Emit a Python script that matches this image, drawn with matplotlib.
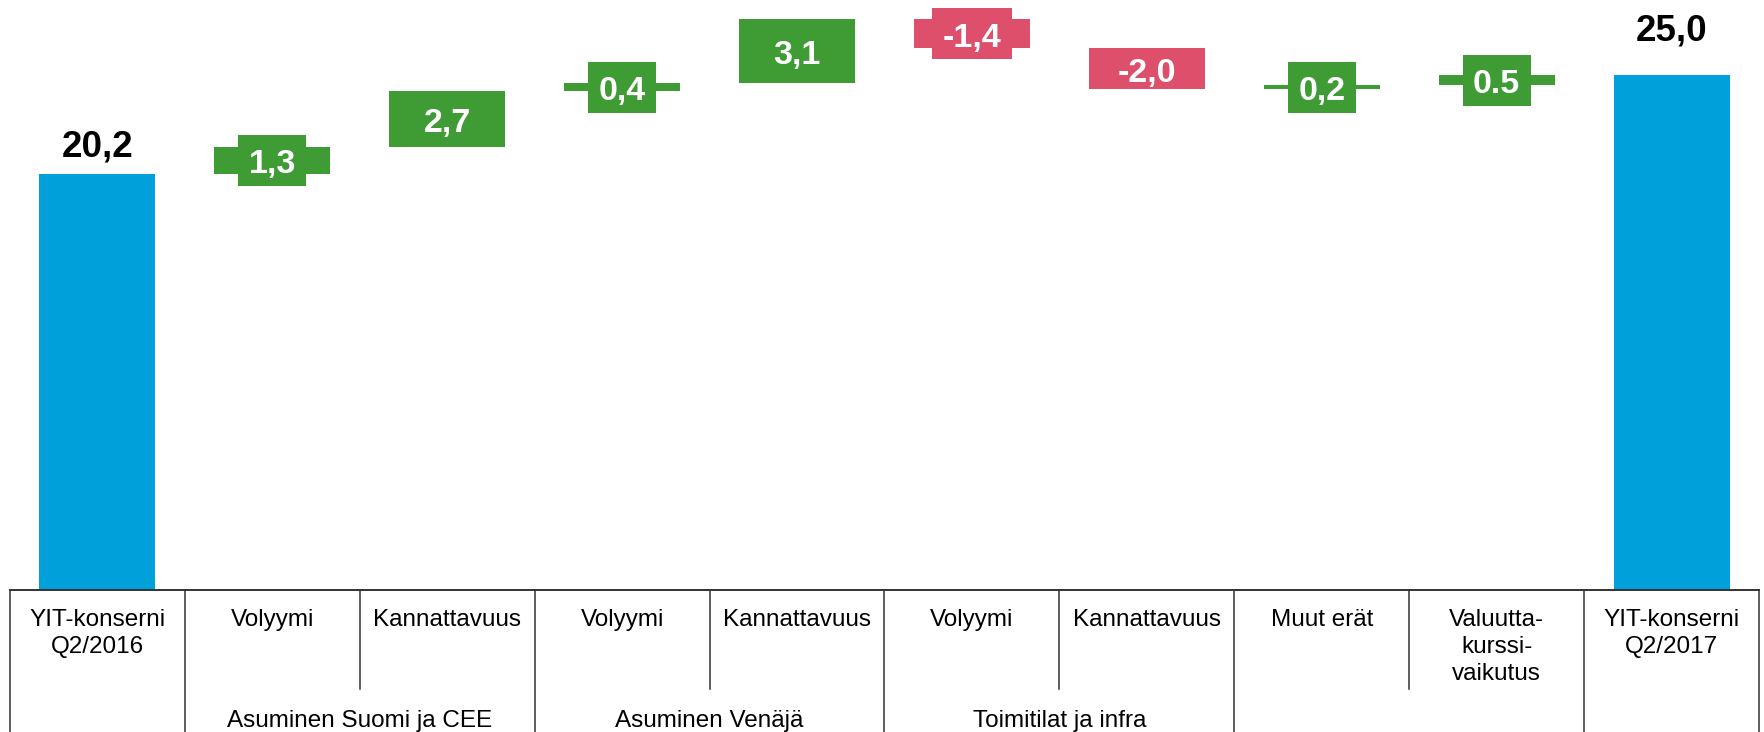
import matplotlib
matplotlib.use("Agg")
import matplotlib.pyplot as plt
from matplotlib.patches import Rectangle
import matplotlib.transforms as mtransforms

plt.rcParams['font.family'] = ['Liberation Sans', 'DejaVu Sans']

# ---- data ----
categories = ["YIT-konserni\nQ2/2016", "Volyymi", "Kannattavuus", "Volyymi", "Kannattavuus",
              "Volyymi", "Kannattavuus", "Muut erät", "Valuutta-\nkurssi-\nvaikutus",
              "YIT-konserni\nQ2/2017"]
values = [20.2, 1.3, 2.7, 0.4, 3.1, -1.4, -2.0, 0.2, 0.5, 25.0]
value_labels = ["20,2", "1,3", "2,7", "0,4", "3,1", "-1,4", "-2,0", "0,2", "0.5", "25,0"]
is_total = [True, False, False, False, False, False, False, False, False, True]
group_names = ["Asuminen Suomi ja CEE", "Asuminen Venäjä", "Toimitilat ja infra"]
group_members = [(1, 2), (3, 4), (5, 6)]

# ---- style ----
BLUE = "#00A0DA"
GREEN = "#3F9C35"
RED = "#DD4F6A"
W, H, DPI = 1765, 732, 100
base_px = 590          # pixel row of the zero line
left_px, right_px = 9.9, 1759.0
ytop = 28.64

fig = plt.figure(figsize=(W / DPI, H / DPI), dpi=DPI)
ax = fig.add_axes([left_px / W, (H - base_px) / H, (right_px - left_px) / W, base_px / H])
ax.set_xlim(-0.5, len(values) - 0.5)
ax.set_ylim(0, ytop)
ax.axis("off")

# waterfall geometry
bottoms, heights, colors = [], [], []
running = 0.0
for v, tot in zip(values, is_total):
    if tot:
        bottoms.append(0.0)
        heights.append(v)
        colors.append(BLUE)
        running = v
    else:
        bottoms.append(min(running, running + v))
        heights.append(abs(v))
        colors.append(GREEN if v >= 0 else RED)
        running += v

x = list(range(len(values)))
ax.bar(x, heights, bottom=bottoms, width=0.663, color=colors, zorder=2, linewidth=0)

# total labels (black above bar)
total_offsets = {0: 17, len(values) - 1: 34}
for i, (lab, tot) in enumerate(zip(value_labels, is_total)):
    if tot:
        tr = mtransforms.offset_copy(ax.transData, fig=fig, x=0, y=total_offsets[i], units="dots")
        ax.text(i, bottoms[i] + heights[i], lab, transform=tr, ha="center", va="baseline",
                fontsize=26.5, fontweight="bold", color="black", zorder=5)

# delta labels (white, on a coloured box when the bar is too thin)
delta_texts = []
for i, (lab, tot) in enumerate(zip(value_labels, is_total)):
    if not tot:
        yc = bottoms[i] + heights[i] / 2
        tr = mtransforms.offset_copy(ax.transData, fig=fig, x=0, y=-13.0, units="dots")
        t = ax.text(i, yc, lab, transform=tr, ha="center", va="baseline",
                    fontsize=24.5, fontweight="bold", color="white", zorder=5)
        delta_texts.append((i, yc, t))

fig.canvas.draw()
renderer = fig.canvas.get_renderer()
px_per_x = (right_px - left_px) / len(values)
px_per_y = base_px / ytop
for i, yc, t in delta_texts:
    if heights[i] >= 1.9:
        continue
    wpx = t.get_window_extent(renderer).width + 2 * 10.5
    hpx = 51
    wd, hd = wpx / px_per_x, hpx / px_per_y
    ax.add_patch(Rectangle((i - wd / 2, yc - hd / 2), wd, hd, facecolor=colors[i],
                           edgecolor="none", zorder=3))

# ---- table below ----
tax = fig.add_axes([left_px / W, 0, (right_px - left_px) / W, (H - base_px) / H])
tax.set_xlim(-0.5, len(values) - 0.5)
tax.set_ylim(H - base_px, 0)
tax.axis("off")
lc = "#333333"
tax.plot([-0.5, len(values) - 0.5], [0, 0], color=lc, lw=1.4, clip_on=False)
full_lines = [-0.5, 0.5, 2.5, 4.5, 6.5, 8.5, len(values) - 0.5]
short_lines = [1.5, 3.5, 5.5, 7.5]
for xl in full_lines:
    tax.plot([xl, xl], [0, H - base_px], color=lc, lw=1.1, clip_on=False)
for xl in short_lines:
    tax.plot([xl, xl], [0, 99], color=lc, lw=1.1, clip_on=False)

for i, c in enumerate(categories):
    tax.text(i, 19, c, ha="center", va="top", fontsize=17.5, color="black", linespacing=1.3)
for name, (a, b) in zip(group_names, group_members):
    tax.text((a + b) / 2, 137, name, ha="center", va="baseline", fontsize=17.5, color="black")

fig.savefig("out.png", dpi=DPI)
